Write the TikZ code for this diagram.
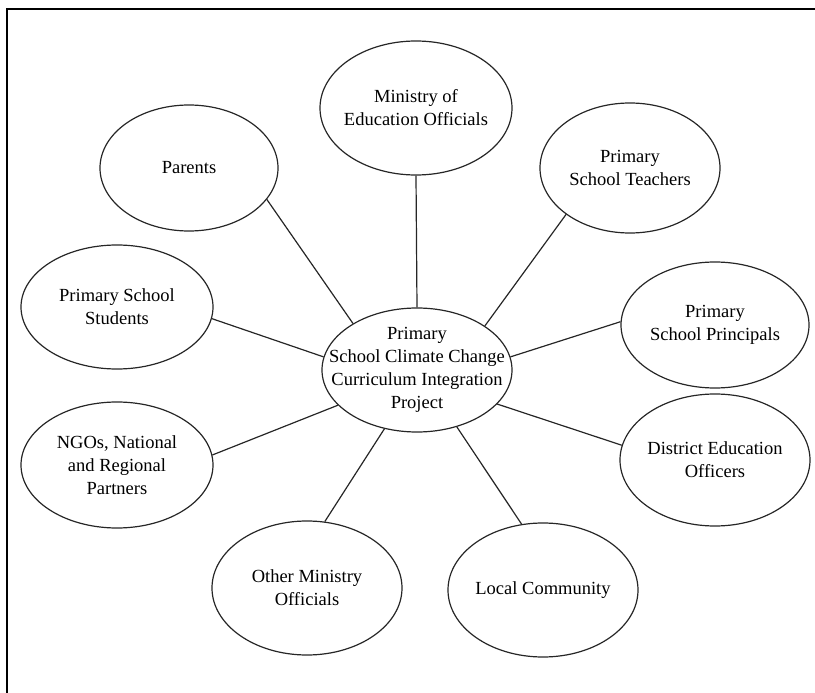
\documentclass[tikz,border=0pt]{standalone}
\usepackage{fontspec}
\setmainfont{Liberation Serif}
\usetikzlibrary{shapes.geometric}
\begin{document}
\begin{tikzpicture}[x=1pt,y=-1pt,
  party/.style={ellipse, draw=black!85, line width=1.2pt, inner sep=0pt},
  caption/.style={align=center, inner sep=0pt, font=\fontsize{18.5}{23}\selectfont},
  link/.style={draw=black!85, line width=1.2pt},
  frame/.style={draw=black, line width=2.6pt}]
\useasboundingbox (0,0) rectangle (815,693);

% page frame (top and left edges)
\draw[frame] (7,693) -- (7,9) -- (815,9);

% stakeholder ellipses
\node[party, minimum width=190pt, minimum height=124pt] (c)   at (417,370) {};
\node[party, minimum width=192pt, minimum height=134pt] (min) at (416,108) {};
\node[party, minimum width=178pt, minimum height=126pt] (par) at (189,168) {};
\node[party, minimum width=180pt, minimum height=130pt] (tea) at (630,168) {};
\node[party, minimum width=192pt, minimum height=124pt] (stu) at (117,307) {};
\node[party, minimum width=188pt, minimum height=126pt] (pri) at (715,325) {};
\node[party, minimum width=192pt, minimum height=126pt] (ngo) at (117,465) {};
\node[party, minimum width=190pt, minimum height=132pt] (dis) at (715,460) {};
\node[party, minimum width=190pt, minimum height=134pt] (oth) at (307,588) {};
\node[party, minimum width=190pt, minimum height=134pt] (loc) at (543,590) {};

% captions
\node[caption] at (c)   {Primary\\School Climate Change\\Curriculum Integration\\Project};
\node[caption] at (min) {Ministry of\\Education Officials};
\node[caption] at (par) {Parents};
\node[caption] at (tea) {Primary\\School Teachers};
\node[caption] at (stu) {Primary School\\Students};
\node[caption] at (pri) {Primary\\School Principals};
\node[caption] at (ngo) {NGOs, National\\and Regional\\Partners};
\node[caption] at (dis) {District Education\\Officers};
\node[caption] at (oth) {Other Ministry\\Officials};
\node[caption] at (loc) {Local Community};

% connectors from the project to each stakeholder
\draw[link] (c.90)    -- (min.270);
\draw[link] (c.33)    -- (tea.216);
\draw[link] (c.8)     -- (pri.178);
\draw[link] (c.-23)   -- (dis.171);
\draw[link] (c.-55)   -- (loc.108);
\draw[link] (c.241)   -- (oth.75);
\draw[link] (c.204)   -- (ngo.6);
\draw[link] (c.172)   -- (stu.-7);
\draw[link] (c.144)   -- (par.-22);
\end{tikzpicture}
\end{document}
